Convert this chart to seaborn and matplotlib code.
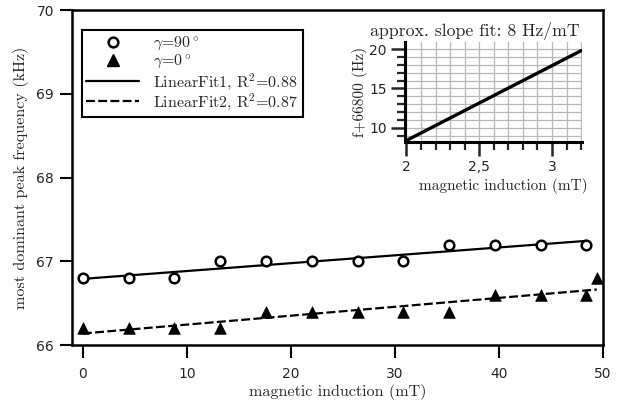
import numpy as np
import pandas as pd
import matplotlib
matplotlib.use("Agg")
import matplotlib.pyplot as plt
import seaborn as sns
from matplotlib.ticker import MultipleLocator, FixedLocator
from matplotlib.lines import Line2D

# data
b_90 = [0, 4.4, 8.8, 13.2, 17.6, 22, 26.4, 30.8, 35.2, 39.6, 44, 48.4]
f_90 = [66.8, 66.8, 66.8, 67.0, 67.0, 67.0, 67.0, 67.0, 67.2, 67.2, 67.2, 67.2]
b_0 = [0, 4.4, 8.8, 13.2, 17.6, 22, 26.4, 30.8, 35.2, 39.6, 44, 48.4, 49.4]
f_0 = [66.2, 66.2, 66.2, 66.2, 66.4, 66.4, 66.4, 66.4, 66.4, 66.6, 66.6, 66.6, 66.8]

# inset: zoom of the fit
inset_b = [2.0, 3.2]
inset_f = [8.4, 19.8]

sns.set_style("ticks")
serif = ["cmr10", "DejaVu Serif"]
plt.rcParams["font.family"] = ["DejaVu Sans"]
plt.rcParams["mathtext.fontset"] = "cm"
plt.rcParams["axes.unicode_minus"] = False

df90 = pd.DataFrame({"B": b_90, "f": f_90})
df0 = pd.DataFrame({"B": b_0, "f": f_0})

fig = plt.figure(figsize=(6.25, 4.07), dpi=100)
ax = fig.add_axes([0.1152, 0.1523, 0.8496, 0.8231])

sns.scatterplot(data=df90, x="B", y="f", ax=ax, marker="o", s=48,
                facecolor="white", edgecolor="black", linewidth=1.8, zorder=3)
sns.scatterplot(data=df0, x="B", y="f", ax=ax, marker="^", s=70,
                color="black", edgecolor="black", linewidth=0.5, zorder=3)
sns.regplot(data=df90, x="B", y="f", ax=ax, scatter=False, ci=None,
            line_kws=dict(color="black", lw=1.6, ls="-"))
sns.regplot(data=df0, x="B", y="f", ax=ax, scatter=False, ci=None,
            line_kws=dict(color="black", lw=1.6, ls=(0, (4, 1.5))))

ax.set_xlim(-1.05, 50)
ax.set_ylim(66, 70)
ax.set_xticks([0, 10, 20, 30, 40, 50])
ax.set_yticks([66, 67, 68, 69, 70])
ax.tick_params(direction="out", length=9, width=1.5, labelsize=10, color="black", pad=7)
ax.tick_params(axis="y", pad=4)
for s in ax.spines.values():
    s.set_visible(True)
    s.set_linewidth(1.8)
    s.set_color("black")
ax.set_xlabel("magnetic induction (mT)", family=serif, fontsize=11.6, labelpad=2)
ax.set_ylabel("most dominant peak frequency (kHz)", family=serif, fontsize=11.6, labelpad=5)

handles = [
    Line2D([], [], ls="none", marker="o", ms=7, mfc="white", mec="black", mew=1.8),
    Line2D([], [], ls="none", marker="^", ms=8, color="black"),
    Line2D([], [], color="black", lw=1.6),
    Line2D([], [], color="black", lw=1.6, ls=(0, (4, 1.5))),
]
labels = [r"$\gamma$=90$^\circ$", r"$\gamma$=0$^\circ$",
          r"LinearFit1, R$^2$=0.88", r"LinearFit2, R$^2$=0.87"]
leg = ax.legend(handles, labels, loc="upper left", bbox_to_anchor=(0.018, 0.94),
                prop=dict(family=serif, size=11.5), frameon=True, fancybox=False,
                edgecolor="black", framealpha=1, handlelength=3.3, handletextpad=0.9,
                labelspacing=0.0, borderpad=0.3, borderaxespad=0)
leg.get_frame().set_linewidth(1.5)

# inset
ins = fig.add_axes([0.648, 0.651, 0.283, 0.2458])
sns.lineplot(x=inset_b, y=inset_f, ax=ins, color="black", lw=2.4)
ins.set_xlim(1.99, 3.205)
ins.set_ylim(8.2, 20.9)
ins.xaxis.set_major_locator(FixedLocator([2, 2.5, 3]))
ins.xaxis.set_minor_locator(MultipleLocator(0.1))
ins.yaxis.set_major_locator(FixedLocator([10, 15, 20]))
ins.yaxis.set_minor_locator(MultipleLocator(1))
ins.set_xticklabels(["2", "2,5", "3"])
ins.grid(which="both", color="#b8b8b8", lw=0.9)
ins.tick_params(which="major", direction="out", length=10, width=1.8, labelsize=10, pad=3)
ins.tick_params(which="minor", direction="out", length=6, width=1.6)
ins.spines["top"].set_visible(False)
ins.spines["right"].set_visible(False)
for side in ["left", "bottom"]:
    ins.spines[side].set_linewidth(2.2)
    ins.spines[side].set_color("black")
ins.set_xlabel("magnetic induction (mT)", family=serif, fontsize=11, labelpad=-2)
ins.xaxis.set_label_coords(0.555, -0.36)
ins.set_ylabel("f+66800 (Hz)", family=serif, fontsize=11, labelpad=1)
ins.set_title("approx. slope fit: 8 Hz/mT", family=serif, fontsize=12.8, pad=4, x=0.395)
ins.set_facecolor("white")

fig.savefig("out.png", dpi=100)
